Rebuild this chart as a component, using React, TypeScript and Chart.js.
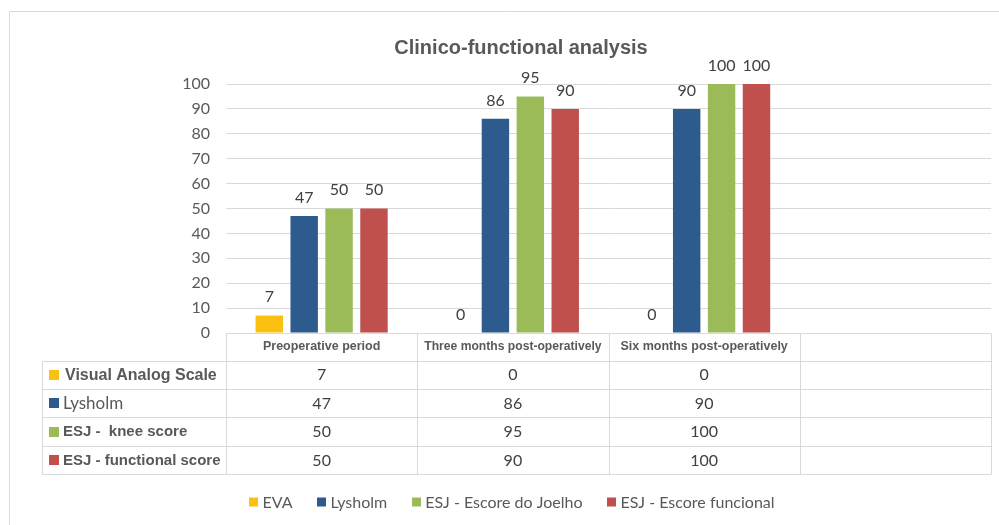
import React, { useEffect, useRef } from "react";
import { Chart, registerables } from "chart.js";

Chart.register(...registerables);

const titleText = "Clinico-functional analysis";
const categories = ["Preoperative period", "Three months post-operatively", "Six months post-operatively", ""];
const legendNames = ["EVA", "Lysholm", "ESJ - Escore do Joelho", "ESJ - Escore funcional"];
const tableRowNames = ["Visual Analog Scale", "Lysholm", "ESJ -  knee score", "ESJ - functional score"];
const evaValues = [7, 0, 0, null];
const lysholmValues = [47, 86, 90, null];
const kneeValues = [50, 95, 100, null];
const functionalValues = [50, 90, 100, null];
const seriesColors = ["#FCC010", "#2E5B8E", "#9BBB59", "#C0504D"];
const yTicks = [0, 10, 20, 30, 40, 50, 60, 70, 80, 90, 100];

const GRID = "#d9d9d9";
const TEXT = "#595959";
const VALTEXT = "#404040";
const ARIAL = "'Liberation Sans', Arial, sans-serif";
const CAL = "Lato, 'Open Sans', sans-serif";

const allSeries = [evaValues, lysholmValues, kneeValues, functionalValues];

const decorPlugin = {
  id: "decor",
  afterDatasetsDraw(chart: any) {
    const ctx = chart.ctx;
    ctx.save();
    ctx.fillStyle = VALTEXT;
    ctx.font = `16px ${CAL}`;
    ctx.textAlign = "center";
    ctx.textBaseline = "middle";
    chart.data.datasets.forEach((ds: any, i: number) => {
      const meta = chart.getDatasetMeta(i);
      meta.data.forEach((bar: any, j: number) => {
        const v = ds.data[j];
        if (v === null || v === undefined) return;
        ctx.fillText(String(v), bar.x, bar.y - 18.5);
      });
    });
    ctx.restore();
  },
  afterDraw(chart: any) {
    const ctx = chart.ctx;
    const { left, right, bottom } = chart.chartArea;
    ctx.save();
    // outer frame
    ctx.strokeStyle = GRID;
    ctx.lineWidth = 1;
    ctx.beginPath();
    ctx.moveTo(9.5, 525);
    ctx.lineTo(9.5, 11.5);
    ctx.lineTo(999, 11.5);
    ctx.stroke();

    // title
    ctx.fillStyle = TEXT;
    ctx.font = `bold 20px ${ARIAL}`;
    ctx.textAlign = "center";
    ctx.textBaseline = "middle";
    ctx.fillText(titleText, 521, 48);

    // table
    const n = categories.length;
    const colW = (right - left) / n;
    const tableLeft = 42;
    const headerBottom = bottom + 27.5;
    const rowH = 28.4;
    const rowsBottom = headerBottom + rowH * tableRowNames.length;
    const px = (v: number) => Math.round(v) + 0.5;

    ctx.strokeStyle = GRID;
    ctx.beginPath();
    for (let r = 0; r <= tableRowNames.length; r++) {
      const y = px(headerBottom + r * rowH);
      ctx.moveTo(tableLeft, y);
      ctx.lineTo(right, y);
    }
    ctx.moveTo(px(tableLeft), px(headerBottom));
    ctx.lineTo(px(tableLeft), px(rowsBottom));
    for (let c = 0; c <= n; c++) {
      const x = px(left + c * colW);
      ctx.moveTo(x, px(bottom));
      ctx.lineTo(x, px(rowsBottom));
    }
    ctx.stroke();

    // header text
    ctx.fillStyle = TEXT;
    ctx.font = `bold 12.5px ${ARIAL}`;
    for (let c = 0; c < n; c++) {
      if (!categories[c]) continue;
      ctx.fillText(categories[c], left + c * colW + colW / 2, bottom + 14, colW - 14);
    }

    // rows
    for (let r = 0; r < tableRowNames.length; r++) {
      const cy = headerBottom + r * rowH + rowH / 2;
      ctx.fillStyle = seriesColors[r];
      ctx.fillRect(49, Math.round(cy - 5), 10, 10);
      ctx.fillStyle = TEXT;
      ctx.textAlign = "left";
      if (r === 1) ctx.font = `17px ${CAL}`;
      else if (r === 0) ctx.font = `bold 16px ${ARIAL}`;
      else ctx.font = `bold 15px ${ARIAL}`;
      const tx = r === 0 ? 65 : 63;
      ctx.fillText(tableRowNames[r], tx, cy + 0.5, left - tx - 2);
      ctx.textAlign = "center";
      ctx.fillStyle = VALTEXT;
      ctx.font = `16px ${CAL}`;
      const vals = allSeries[r];
      for (let c = 0; c < n; c++) {
        const v = vals[c];
        if (v === null || v === undefined) continue;
        ctx.fillText(String(v), left + c * colW + colW / 2, cy + 0.5);
      }
    }

    // legend
    ctx.font = `16px ${CAL}`;
    const box = 9;
    const gapBoxText = 4;
    const gapItems = 25;
    const widths = legendNames.map((t) => ctx.measureText(t).width);
    const total = widths.reduce((a, w) => a + box + gapBoxText + w, 0) + gapItems * (legendNames.length - 1);
    let x = 512 - total / 2;
    const ly = 502;
    ctx.textAlign = "left";
    legendNames.forEach((t, i) => {
      ctx.fillStyle = seriesColors[i];
      ctx.fillRect(Math.round(x), ly - 4.5, box, box);
      ctx.fillStyle = TEXT;
      ctx.fillText(t, x + box + gapBoxText, ly + 0.5);
      x += box + gapBoxText + widths[i] + gapItems;
    });
    ctx.restore();
  },
};

export default function App() {
  const ref = useRef<HTMLCanvasElement | null>(null);
  useEffect(() => {
    if (!ref.current) return;
    const chart = new Chart(ref.current, {
      type: "bar",
      data: {
        labels: categories,
        datasets: allSeries.map((vals, i) => ({
          label: legendNames[i],
          data: vals as any,
          backgroundColor: seriesColors[i],
          borderWidth: 0,
          categoryPercentage: 0.73,
          barPercentage: 0.786,
        })),
      },
      options: {
        responsive: false,
        animation: false,
        events: [],
        layout: { padding: { left: 0, right: 8, top: 84, bottom: 192 } },
        plugins: {
          legend: { display: false },
          title: { display: false },
          tooltip: { enabled: false },
        },
        scales: {
          x: { display: false },
          y: {
            min: 0,
            max: 100,
            afterFit: (scale: any) => {
              scale.width = 226;
            },
            afterBuildTicks: (scale: any) => {
              scale.ticks = yTicks.map((v) => ({ value: v }));
            },
            ticks: {
              color: TEXT,
              font: { family: CAL, size: 16 },
              padding: 16,
            },
            grid: { color: GRID, lineWidth: 1, drawTicks: false },
            border: { display: false },
          },
        },
      },
      plugins: [decorPlugin],
    });
    return () => chart.destroy();
  }, []);
  return (
    <div style={{ position: "absolute", left: 0, top: 0, width: 999, height: 525, background: "#fff" }}>
      <canvas ref={ref} width={999} height={525} style={{ display: "block" }} />
    </div>
  );
}
